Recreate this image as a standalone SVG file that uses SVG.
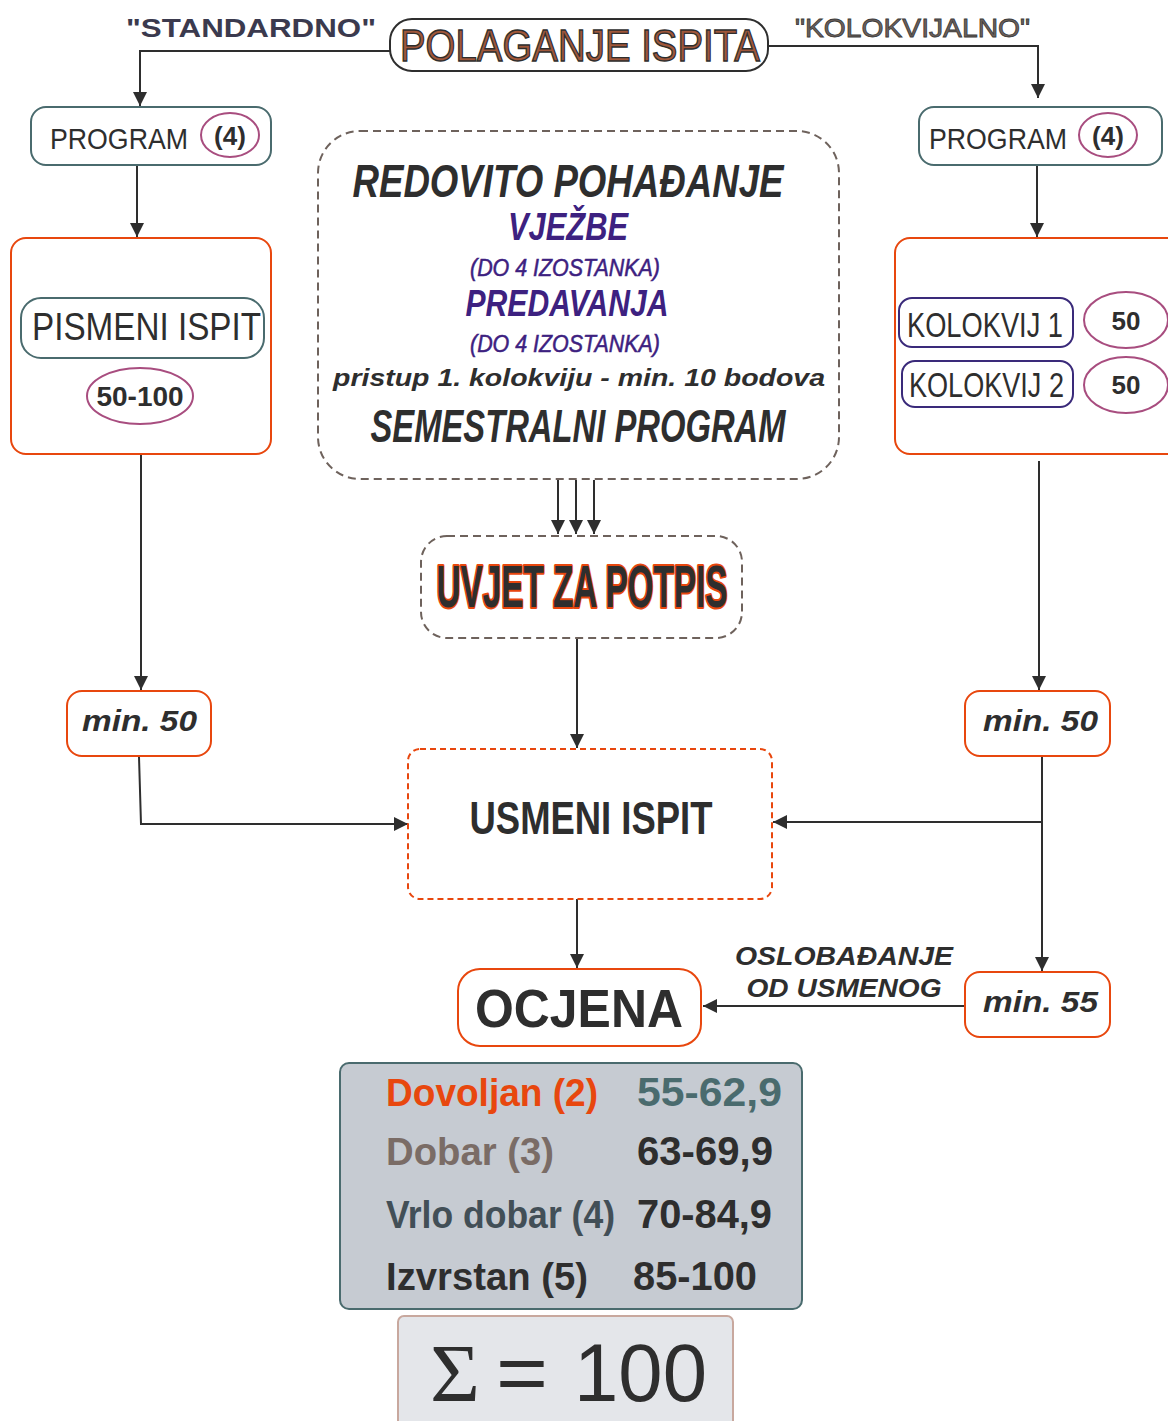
<svg xmlns="http://www.w3.org/2000/svg" width="1168" height="1421" viewBox="0 0 1168 1421">
<style>
  text { font-family: "Liberation Sans", Arial, sans-serif; fill: #2e2e2e; }
  .b { font-weight: bold; }
  .bi { font-weight: bold; font-style: italic; }
  .i { font-style: italic; }
  .c { text-anchor: middle; }
  .orange { fill: #ffffff; stroke: #e8470e; stroke-width: 2; }
  .teal { fill: #ffffff; stroke: #4a6b6e; stroke-width: 2; }
  .purp { fill: #ffffff; stroke: #3a2a7a; stroke-width: 2; }
  .ell { fill: #ffffff; stroke: #a84d7f; stroke-width: 2; }
  .dashg { fill: #ffffff; stroke: #6e625c; stroke-width: 2; stroke-dasharray: 8 5; }
  .dasho { fill: #ffffff; stroke: #e8470e; stroke-width: 2; stroke-dasharray: 6 4; }
  .conn { fill: none; stroke: #2e2e2e; stroke-width: 2; }
  .pt { fill: #3d2180; }
</style>
<defs>
  <marker id="arr" viewBox="0 0 12 12" refX="12" refY="6" markerWidth="14" markerHeight="14" markerUnits="userSpaceOnUse" orient="auto">
    <path d="M0,0 L12,6 L0,12 z" fill="#2e2e2e"/>
  </marker>
</defs>
<rect width="1168" height="1421" fill="#ffffff"/>

<g id="connectors">
  <path class="conn" d="M390,51 H140 V106" marker-end="url(#arr)"/>
  <path class="conn" d="M768,46 H1038 V98" marker-end="url(#arr)"/>
  <path class="conn" d="M137,166 V237" marker-end="url(#arr)"/>
  <path class="conn" d="M1037,166 V237" marker-end="url(#arr)"/>
  <path class="conn" d="M141,455 V690" marker-end="url(#arr)"/>
  <path class="conn" d="M1039,461 V690" marker-end="url(#arr)"/>
  <path class="conn" d="M558,480 V534" marker-end="url(#arr)"/>
  <path class="conn" d="M576,480 V534" marker-end="url(#arr)"/>
  <path class="conn" d="M594,480 V534" marker-end="url(#arr)"/>
  <path class="conn" d="M577,638 V748" marker-end="url(#arr)"/>
  <path class="conn" d="M139,757 L141,824 H408" marker-end="url(#arr)"/>
  <path class="conn" d="M1042,757 V971" marker-end="url(#arr)"/>
  <path class="conn" d="M1042,822 H773" marker-end="url(#arr)"/>
  <path class="conn" d="M577,899 V968" marker-end="url(#arr)"/>
  <path class="conn" d="M965,1006 H703" marker-end="url(#arr)"/>
  <path class="conn" d="M1073,321 H1084"/>
  <path class="conn" d="M1073,385 H1084"/>
</g>

<g id="labels">
  <text x="126" y="37" class="b" font-size="26" textLength="250" lengthAdjust="spacingAndGlyphs" style="fill:#3b3a4e">"STANDARDNO"</text>
  <text x="795" y="37" font-size="26" textLength="235" lengthAdjust="spacingAndGlyphs" style="fill:#6e625c;stroke:#3a3a3a;stroke-width:0.8">"KOLOKVIJALNO"</text>
  <text x="844" y="965" class="bi c" font-size="25" textLength="218" lengthAdjust="spacingAndGlyphs">OSLOBAĐANJE</text>
  <text x="844" y="997" class="bi c" font-size="25" textLength="195" lengthAdjust="spacingAndGlyphs">OD USMENOG</text>
</g>

<g id="title">
  <rect x="390" y="19" width="378" height="52" rx="22" fill="#ffffff" stroke="#2e2e2e" stroke-width="2"/>
  <text x="580" y="61" class="c" font-size="45" textLength="360" lengthAdjust="spacingAndGlyphs" style="fill:#a0573a;stroke:#2e2e2e;stroke-width:1.4">POLAGANJE ISPITA</text>
</g>

<g id="program-left">
  <rect class="teal" x="31" y="107" width="240" height="58" rx="15"/>
  <text x="50" y="149" font-size="30" textLength="138" lengthAdjust="spacingAndGlyphs">PROGRAM</text>
  <ellipse class="ell" cx="230" cy="135" rx="29" ry="22"/>
  <text x="230" y="145" class="b c" font-size="26">(4)</text>
</g>

<g id="program-right">
  <rect class="teal" x="919" y="107" width="243" height="58" rx="15"/>
  <text x="929" y="149" font-size="30" textLength="138" lengthAdjust="spacingAndGlyphs">PROGRAM</text>
  <ellipse class="ell" cx="1108" cy="135" rx="29" ry="22"/>
  <text x="1108" y="145" class="b c" font-size="26">(4)</text>
</g>

<g id="pismeni">
  <rect class="orange" x="11" y="238" width="260" height="216" rx="15"/>
  <rect class="teal" x="21" y="298" width="243" height="60" rx="20"/>
  <text x="32" y="340" font-size="38" textLength="229" lengthAdjust="spacingAndGlyphs">PISMENI ISPIT</text>
  <ellipse class="ell" cx="140" cy="396" rx="53" ry="28"/>
  <text x="140" y="406" class="b c" font-size="28">50-100</text>
</g>

<g id="kolokvij">
  <rect class="orange" x="895" y="238" width="300" height="216" rx="15"/>
  <rect class="purp" x="899" y="298" width="174" height="49" rx="13"/>
  <text x="907" y="337" font-size="35" textLength="156" lengthAdjust="spacingAndGlyphs">KOLOKVIJ 1</text>
  <ellipse class="ell" cx="1126" cy="320" rx="42" ry="28"/>
  <text x="1126" y="330" class="b c" font-size="26">50</text>
  <rect class="purp" x="902" y="361" width="171" height="46" rx="13"/>
  <text x="909" y="397" font-size="35" textLength="155" lengthAdjust="spacingAndGlyphs">KOLOKVIJ 2</text>
  <ellipse class="ell" cx="1126" cy="385" rx="42" ry="28"/>
  <text x="1126" y="394" class="b c" font-size="26">50</text>
</g>

<g id="pohadanje">
  <rect class="dashg" x="318" y="131" width="521" height="348" rx="42"/>
  <text x="568" y="197" class="bi c" font-size="46" textLength="431" lengthAdjust="spacingAndGlyphs">REDOVITO POHAĐANJE</text>
  <text x="568" y="240" class="bi c pt" font-size="38" textLength="120" lengthAdjust="spacingAndGlyphs">VJEŽBE</text>
  <text x="565" y="276" class="i c pt" font-size="23" textLength="190" lengthAdjust="spacingAndGlyphs" style="stroke:#3d2180;stroke-width:0.5">(DO 4 IZOSTANKA)</text>
  <text x="567" y="316" class="bi c pt" font-size="37" textLength="203" lengthAdjust="spacingAndGlyphs">PREDAVANJA</text>
  <text x="565" y="352" class="i c pt" font-size="23" textLength="190" lengthAdjust="spacingAndGlyphs" style="stroke:#3d2180;stroke-width:0.5">(DO 4 IZOSTANKA)</text>
  <text x="579" y="386" class="bi c" font-size="24" textLength="492" lengthAdjust="spacingAndGlyphs">pristup 1. kolokviju - min. 10 bodova</text>
  <text x="578" y="442" class="bi c" font-size="46" textLength="415" lengthAdjust="spacingAndGlyphs">SEMESTRALNI PROGRAM</text>
</g>

<g id="uvjet">
  <rect class="dashg" x="421" y="536" width="321" height="102" rx="26"/>
  <text x="582" y="607" class="b c" font-size="60" textLength="291" lengthAdjust="spacingAndGlyphs" style="fill:#2e2e2e;stroke:#e8470e;stroke-width:4;paint-order:stroke;stroke-linejoin:round">UVJET ZA POTPIS</text>
</g>

<g id="min50-left">
  <rect class="orange" x="67" y="691" width="144" height="65" rx="15"/>
  <text x="82" y="731" class="bi" font-size="29" textLength="115" lengthAdjust="spacingAndGlyphs">min. 50</text>
</g>

<g id="min50-right">
  <rect class="orange" x="965" y="691" width="145" height="65" rx="15"/>
  <text x="983" y="731" class="bi" font-size="29" textLength="115" lengthAdjust="spacingAndGlyphs">min. 50</text>
</g>

<g id="usmeni">
  <rect class="dasho" x="408" y="749" width="364" height="150" rx="12"/>
  <text x="591" y="834" class="b c" font-size="47" textLength="243" lengthAdjust="spacingAndGlyphs">USMENI ISPIT</text>
</g>

<g id="min55">
  <rect class="orange" x="965" y="972" width="145" height="65" rx="15"/>
  <text x="983" y="1012" class="bi" font-size="29" textLength="115" lengthAdjust="spacingAndGlyphs">min. 55</text>
</g>

<g id="ocjena">
  <rect class="orange" x="458" y="969" width="243" height="77" rx="22"/>
  <text x="579" y="1027" class="b c" font-size="54" textLength="208" lengthAdjust="spacingAndGlyphs">OCJENA</text>
</g>

<g id="ljestvica">
  <rect x="340" y="1063" width="462" height="246" rx="9" fill="#c6cbd2" stroke="#4a6b6e" stroke-width="2"/>
  <text x="386" y="1106" class="b" font-size="38" textLength="212" lengthAdjust="spacingAndGlyphs" style="fill:#e8470e">Dovoljan (2)</text>
  <text x="637" y="1106" class="b" font-size="40" textLength="145" lengthAdjust="spacingAndGlyphs" style="fill:#4a6b6e">55-62,9</text>
  <text x="386" y="1165" class="b" font-size="38" textLength="168" lengthAdjust="spacingAndGlyphs" style="fill:#7a6c66">Dobar (3)</text>
  <text x="637" y="1165" class="b" font-size="40" textLength="136" lengthAdjust="spacingAndGlyphs">63-69,9</text>
  <text x="386" y="1228" class="b" font-size="38" textLength="229" lengthAdjust="spacingAndGlyphs" style="fill:#424f57">Vrlo dobar (4)</text>
  <text x="637" y="1228" class="b" font-size="40" textLength="135" lengthAdjust="spacingAndGlyphs">70-84,9</text>
  <text x="386" y="1290" class="b" font-size="38" textLength="202" lengthAdjust="spacingAndGlyphs">Izvrstan (5)</text>
  <text x="633" y="1290" class="b" font-size="40" textLength="124" lengthAdjust="spacingAndGlyphs">85-100</text>
</g>

<g id="suma">
  <rect x="398" y="1316" width="335" height="120" rx="6" fill="#e4e6ea" stroke="#c8a89e" stroke-width="2"/>
  <text y="1401" font-size="82"><tspan x="430" textLength="50" lengthAdjust="spacingAndGlyphs" style="font-family:'Liberation Serif',serif">Σ</tspan><tspan x="496" textLength="52" lengthAdjust="spacingAndGlyphs">=</tspan><tspan x="574" textLength="133" lengthAdjust="spacingAndGlyphs">100</tspan></text>
</g>
</svg>
